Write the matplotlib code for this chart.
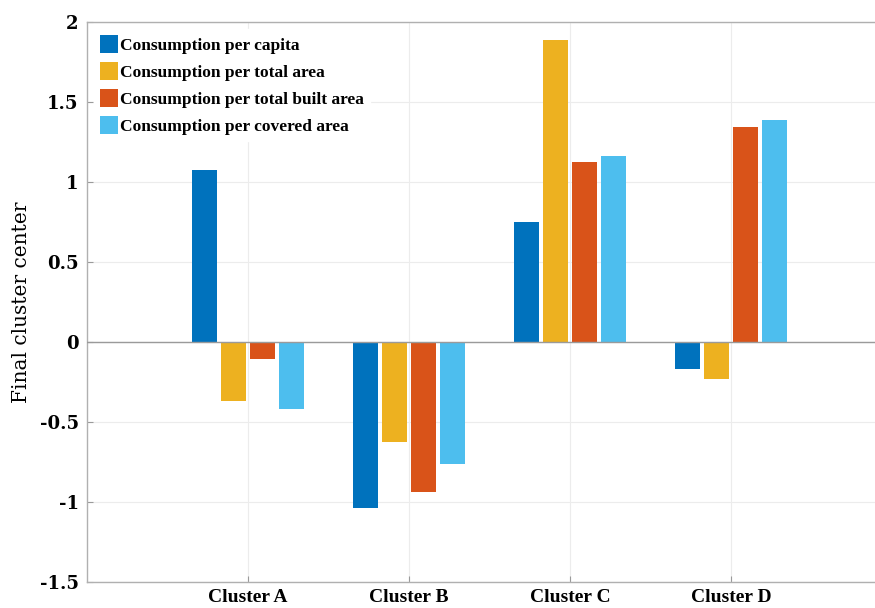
import numpy as np
import matplotlib
matplotlib.use("Agg")
import matplotlib.pyplot as plt

# Data
clusters = ["Cluster A", "Cluster B", "Cluster C", "Cluster D"]
series_names = ["Consumption per capita",
                "Consumption per total area",
                "Consumption per total built area",
                "Consumption per covered area"]
per_capita = [1.075, -1.04, 0.75, -0.17]
per_total_area = [-0.37, -0.625, 1.89, -0.23]
per_built_area = [-0.105, -0.94, 1.125, 1.345]
per_covered_area = [-0.42, -0.765, 1.165, 1.385]
y_ticks = [-1.5, -1, -0.5, 0, 0.5, 1, 1.5, 2]
y_tick_labels = ["-1.5", "-1", "-0.5", "0", "0.5", "1", "1.5", "2"]

colors = ["#0072BD", "#EDB120", "#D95319", "#4DBEEE"]

plt.rcParams['font.family'] = ['Liberation Serif', 'DejaVu Serif']

fig = plt.figure(figsize=(8.75, 6.08), dpi=100)
ax = fig.add_axes([0.0994, 0.0428, 0.92, 0.921])

x = np.arange(1, len(clusters) + 1)
offsets = [-0.27, -0.09, 0.09, 0.27]
all_series = [per_capita, per_total_area, per_built_area, per_covered_area]
for vals, off, col, name in zip(all_series, offsets, colors, series_names):
    ax.bar(x + off, vals, width=0.15, color=col, label=name, zorder=3)

ax.axhline(0, color="#9a9a9a", lw=1.0, zorder=4)

ax.set_xlim(0, 5)
ax.set_ylim(-1.5, 2)
ax.set_xticks(x)
ax.set_xticklabels(clusters, fontsize=14, fontweight='bold')
ax.set_yticks(y_ticks)
ax.set_yticklabels(y_tick_labels, fontsize=13, fontweight='bold',
                   family='DejaVu Serif')
ax.tick_params(direction='in', length=4, color="#9a9a9a")
ax.tick_params(axis='y', pad=6)
ax.tick_params(axis='x', pad=5)
ax.grid(True, color="#ececec", lw=0.8, zorder=0)
for s in ax.spines.values():
    s.set_color("#b0b0b0")
    s.set_linewidth(1.0)

ax.set_ylabel("Final cluster center", fontsize=14.5, family='DejaVu Serif',
              labelpad=6)

leg = ax.legend(loc="upper left", prop={'size': 12.5, 'weight': 'bold'},
                frameon=True, fancybox=False,
                handlelength=1.05, handleheight=1.25, handletextpad=0.1,
                labelspacing=0.45, borderaxespad=0.4, borderpad=0.35)
leg.get_frame().set_edgecolor("white")
leg.get_frame().set_facecolor("white")
leg.get_frame().set_alpha(1.0)

fig.savefig("out.png", dpi=100)
